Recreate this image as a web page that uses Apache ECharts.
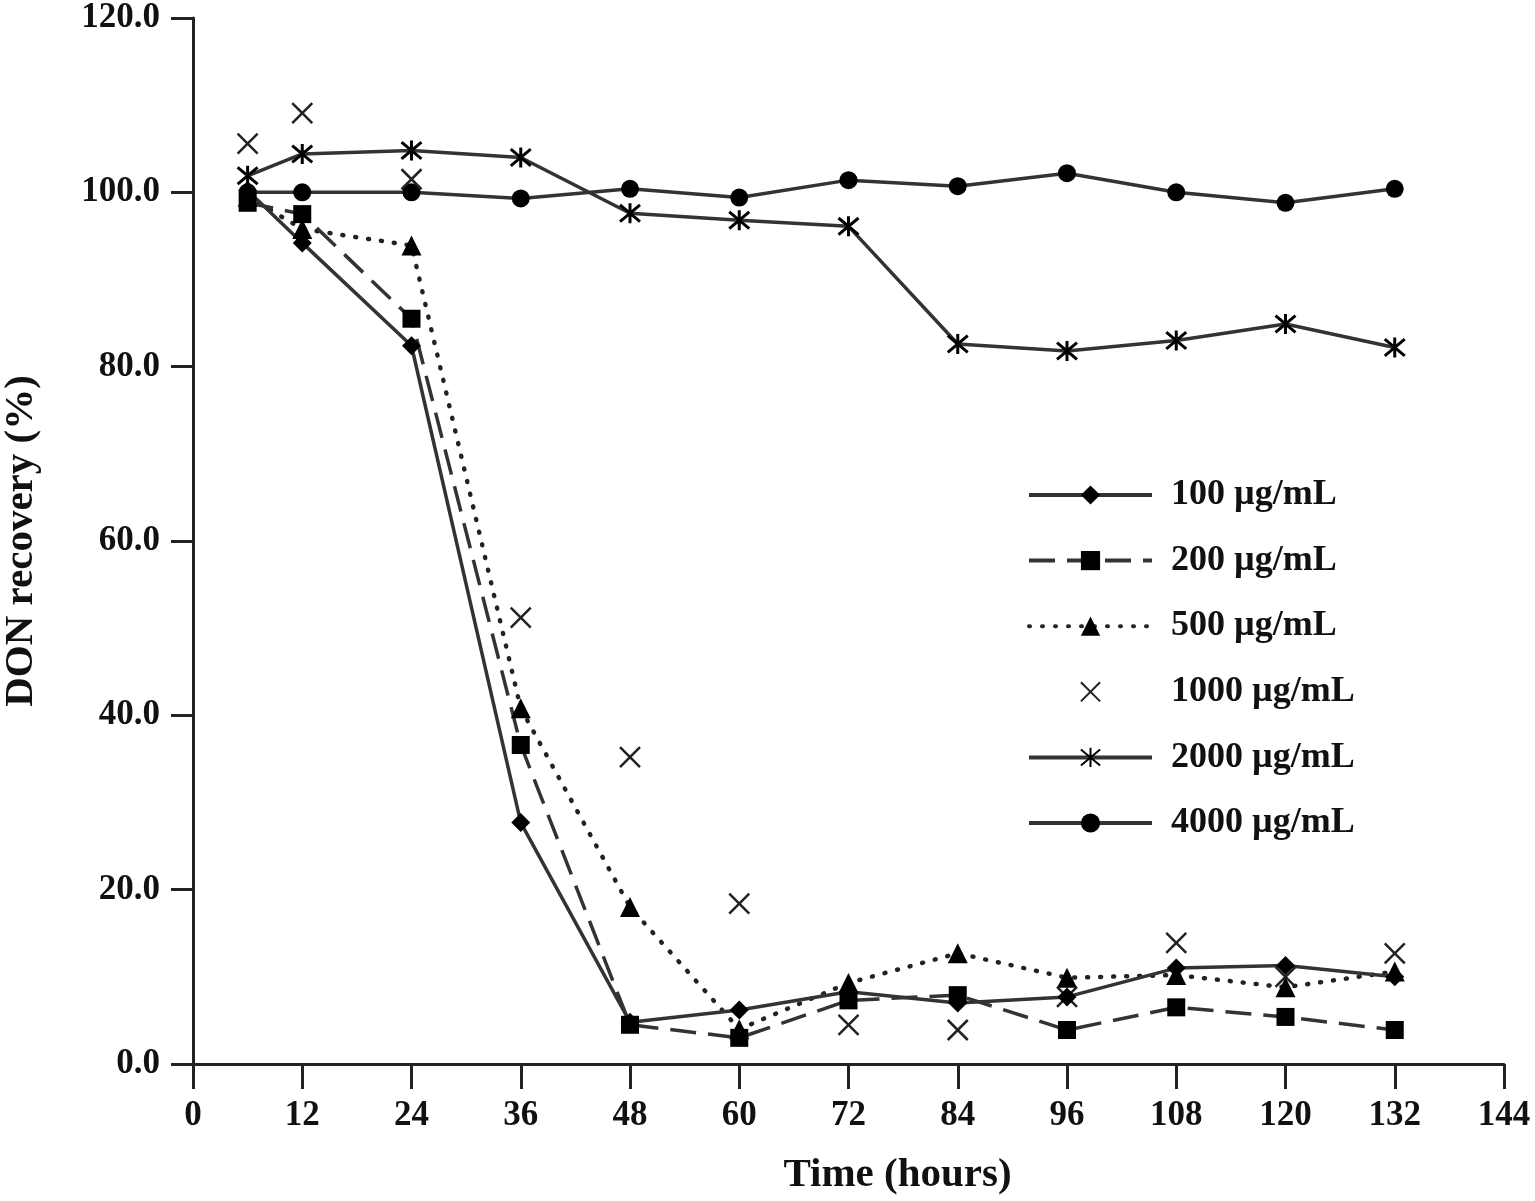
<!DOCTYPE html>
<html><head><meta charset="utf-8">
<script src="https://cdn.jsdelivr.net/npm/echarts@6/dist/echarts.min.js"></script>
<style>html,body{margin:0;padding:0;background:#fff}#c{width:1535px;height:1201px}</style>
</head><body><div id="c"></div>
<script>
const hours = [6, 12, 24, 36, 48, 60, 72, 84, 96, 108, 120, 132];
const seriesNames = ['100 µg/mL', '200 µg/mL', '500 µg/mL', '1000 µg/mL', '2000 µg/mL', '4000 µg/mL'];
const s100  = [100.2, 94.2, 82.4, 27.7, 4.8, 6.2, 8.3, 7.0, 7.7, 11.0, 11.3, 10.0];
const s200  = [98.8, 97.5, 85.5, 36.6, 4.5, 3.0, 7.3, 7.9, 3.9, 6.5, 5.4, 3.9];
const s500  = [99.5, 95.8, 93.9, 40.8, 18.0, 4.0, 9.3, 12.7, 9.9, 10.2, 8.8, 10.6];
const s1000 = [105.6, 109.1, 101.5, 51.2, 35.2, 18.4, 4.5, 3.9, 7.7, 13.9, 10.0, 12.7];
const s2000 = [101.9, 104.4, 104.8, 104.0, 97.6, 96.8, 96.1, 82.6, 81.8, 83.0, 84.9, 82.2];
const s4000 = [100.0, 100.0, 100.0, 99.3, 100.4, 99.4, 101.4, 100.7, 102.2, 100.0, 98.8, 100.4];
const xMin = 0, xMax = 144, xStep = 12;
const yMin = 0, yMax = 120, yStep = 20;

const FONT = 'Liberation Serif';
const INK = '#333';
const pairs = arr => hours.map((h, i) => [h, arr[i]]);
const crossPath = 'path://M0,0L10,10M10,0L0,10';
const starPath = 'path://M0,1L10,11M10,1L0,11M5,0L5,12';

const chart = echarts.init(document.getElementById('c'), null, {renderer: 'canvas'});
chart.setOption({
  backgroundColor: '#fff',
  animation: false,
  grid: {left: 193, right: 31, top: 18, bottom: 137, containLabel: false, outerBoundsMode: 'none'},
  xAxis: {
    type: 'value', min: xMin, max: xMax, interval: xStep,
    name: 'Time (hours)', nameLocation: 'middle', nameGap: 91,
    nameTextStyle: {fontFamily: FONT, fontWeight: 'bold', fontSize: 41, color: '#111', padding: [0, 0, 0, 98]},
    axisLine: {lineStyle: {color: '#222', width: 3}},
    axisTick: {length: 25, lineStyle: {color: '#222', width: 3}},
    axisLabel: {fontFamily: FONT, fontWeight: 'bold', fontSize: 35, color: '#111', margin: 34},
    splitLine: {show: false}
  },
  yAxis: {
    type: 'value', min: yMin, max: yMax, interval: yStep,
    name: 'DON recovery (%)', nameLocation: 'middle', nameGap: 151, nameRotate: 90,
    nameTextStyle: {fontFamily: FONT, fontWeight: 'bold', fontSize: 41, color: '#111'},
    axisLine: {show: true, lineStyle: {color: '#222', width: 3}},
    axisTick: {show: true, length: 22, lineStyle: {color: '#222', width: 3}},
    axisLabel: {fontFamily: FONT, fontWeight: 'bold', fontSize: 35, color: '#111', margin: 33,
      formatter: v => v.toFixed(1)},
    splitLine: {show: false}
  },
  legend: {
    orient: 'vertical', left: 1027, top: 477, padding: 0,
    itemWidth: 123, itemHeight: 24, itemGap: 29.6,
    selectedMode: false,
    lineStyle: {width: 4},
    textStyle: {fontFamily: FONT, fontWeight: 'bold', fontSize: 36, color: '#111', lineHeight: 36, padding: [0, 0, 0, 14]},
    data: [
      {name: seriesNames[0]}, {name: seriesNames[1]}, {name: seriesNames[2]},
      {name: seriesNames[3], lineStyle: {opacity: 0, width: 0}},
      {name: seriesNames[4]}, {name: seriesNames[5]}
    ]
  },
  series: [
    {name: seriesNames[5], type: 'line', data: pairs(s4000), symbol: 'circle', symbolSize: 18,
      lineStyle: {color: INK, width: 3.5}, itemStyle: {color: '#000'}},
    {name: seriesNames[4], type: 'line', data: pairs(s2000), symbol: starPath, symbolSize: 20,
      lineStyle: {color: INK, width: 3.5}, itemStyle: {color: '#000', borderColor: '#000', borderWidth: 3}},
    {name: seriesNames[3], type: 'line', data: pairs(s1000), symbol: crossPath, symbolSize: 20,
      lineStyle: {opacity: 0, width: 0}, itemStyle: {color: '#222', borderColor: '#222', borderWidth: 2.5}},
    {name: seriesNames[2], type: 'line', data: pairs(s500), symbol: 'triangle', symbolSize: 20,
      lineStyle: {color: '#222', width: 4.5, type: [1, 12], cap: 'round'}, itemStyle: {color: '#000'}},
    {name: seriesNames[1], type: 'line', data: pairs(s200), symbol: 'rect', symbolSize: 18,
      lineStyle: {color: INK, width: 3.5, type: [26, 12]}, itemStyle: {color: '#000'}},
    {name: seriesNames[0], type: 'line', data: pairs(s100), symbol: 'diamond', symbolSize: 19,
      lineStyle: {color: INK, width: 3.5}, itemStyle: {color: '#000'}}
  ]
});
</script>
</body></html>
